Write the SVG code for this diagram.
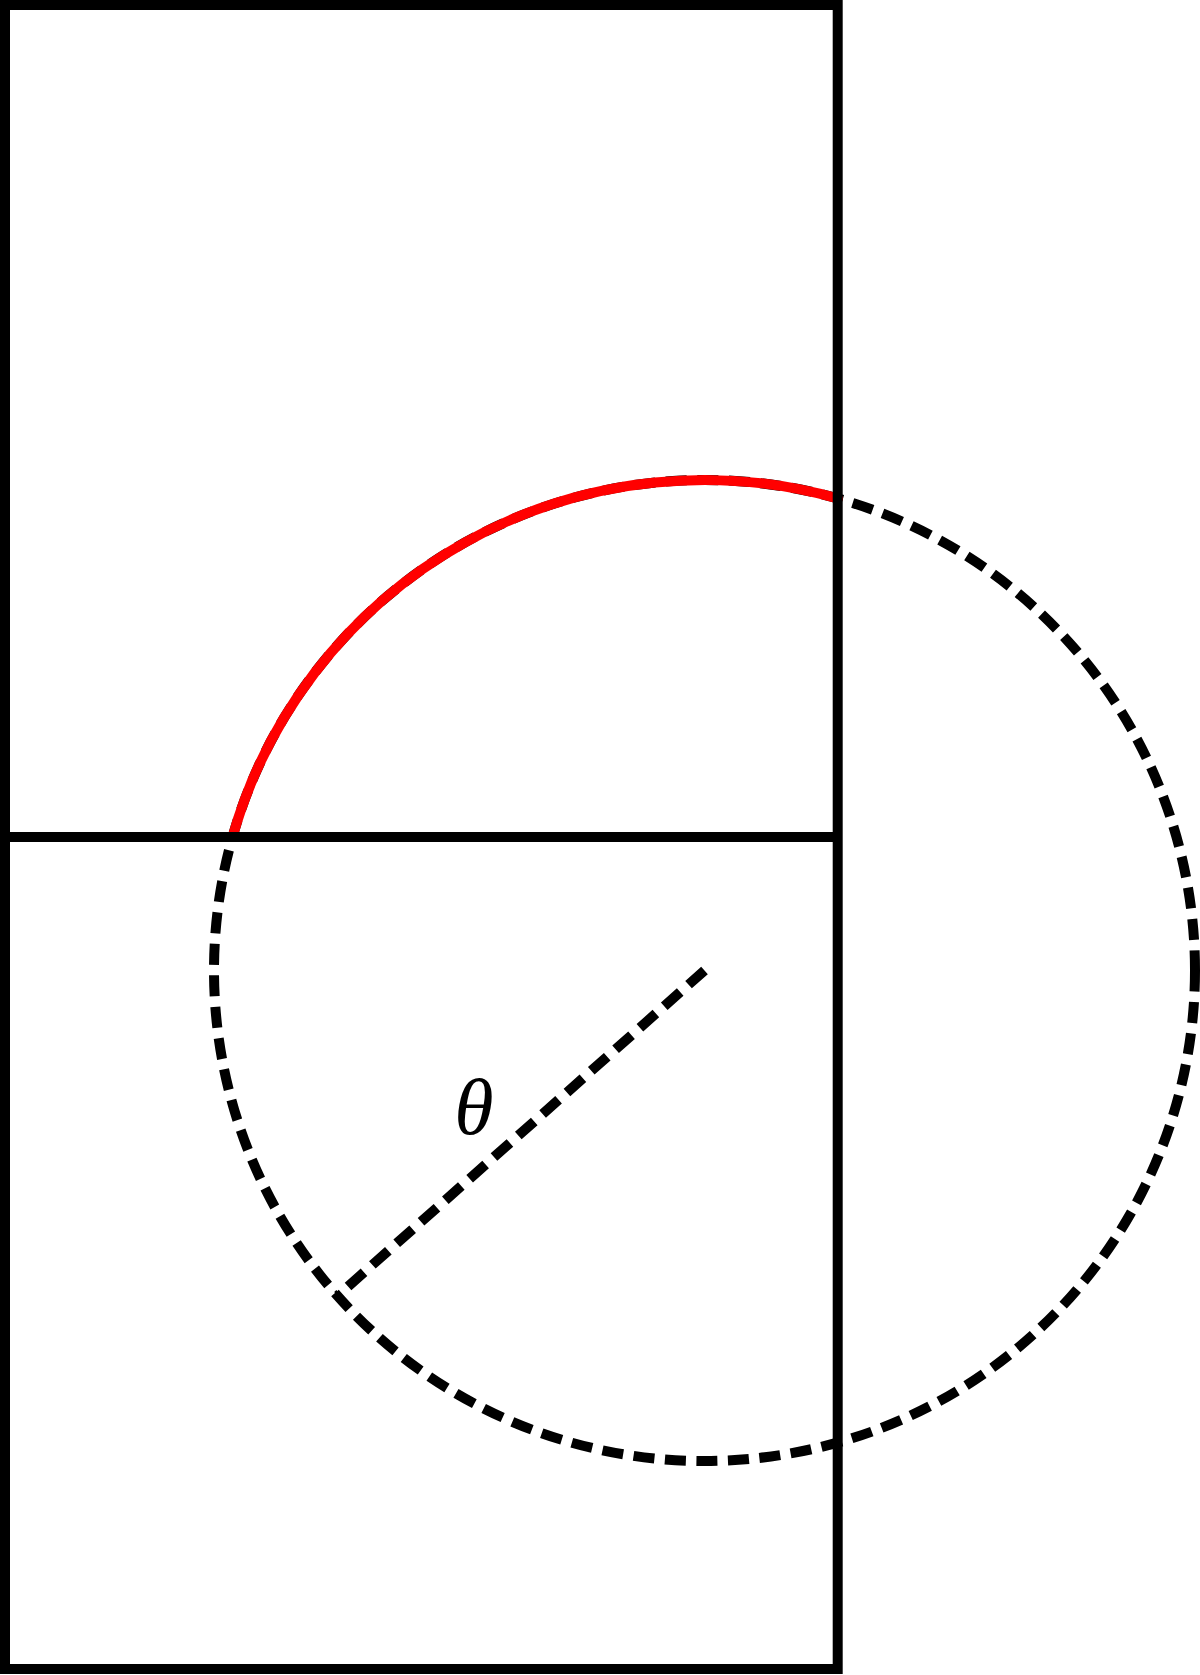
<svg xmlns="http://www.w3.org/2000/svg" width="1200" height="1675" viewBox="0 0 1200 1675">
<style>
.frame{fill:none;stroke:#000;stroke-width:10;stroke-linejoin:miter}
.dash{fill:none;stroke:#000;stroke-width:10;stroke-dasharray:21.04 10.52}
.red{fill:none;stroke:#ff0000;stroke-width:10;stroke-linecap:round}
.lbl{font-family:"Liberation Serif","DejaVu Serif",serif;font-style:italic;font-size:80px;fill:#000}
</style>
<rect width="1200" height="1675" fill="#fff"/>
<g id="connectors">
<circle id="circle" class="dash" cx="704.5" cy="970.5" r="490.5"/>
<path id="red-arc" class="red" d="M 232.5 837 A 490.5 490.5 0 0 1 838 498.5"/>
<path id="radius" class="dash" style="stroke-dasharray:21.3 11.2" d="M 704.5 970.5 L 337.5 1295.8"/>
</g>
<g id="frame">
<rect class="frame" x="5" y="5" width="832.7" height="1664"/>
<line class="frame" x1="5" y1="837" x2="837.7" y2="837"/>
</g>
<g id="label-theta">
<text class="lbl" x="474" y="1134" text-anchor="middle">θ</text>
</g>
</svg>
